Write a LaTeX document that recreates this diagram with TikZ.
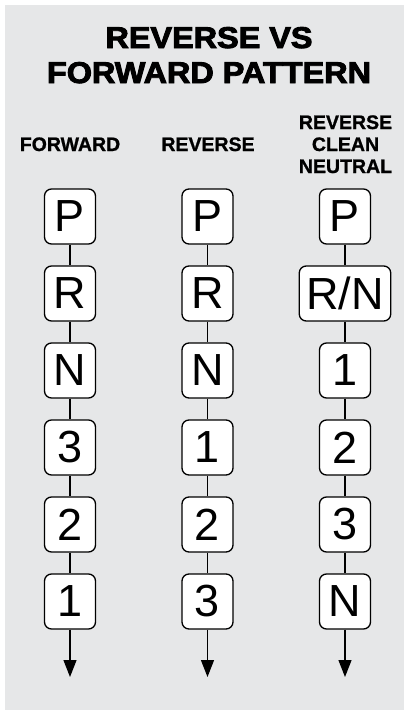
\documentclass[tikz,border=0pt]{standalone}
\usepackage{fontspec}
\setmainfont{Liberation Sans}
\newfontfamily\titlefont{Liberation Sans Bold}[FakeBold=3]
\newfontfamily\labelfont{Liberation Sans Bold}[FakeBold=1]
\usetikzlibrary{arrows.meta}
\definecolor{bggray}{HTML}{E6E7E8}
\tikzset{
  gear/.style={draw=black, fill=white, line width=1.3pt, rounded corners=7pt,
    minimum width=51pt, minimum height=55pt, inner xsep=7pt, inner ysep=0pt,
    font=\fontsize{45}{45}\selectfont},
  link/.style={line width=1.3pt, black},
  endarrow/.style={line width=1.3pt, black, -{Triangle[length=17pt,width=13pt]}},
  collabel/.style={font=\labelfont\fontsize{19.5}{22}\selectfont, align=center, inner sep=0pt, anchor=base},
  titletext/.style={font=\titlefont\fontsize{30}{35}\selectfont, inner sep=0pt, anchor=base}
}
\begin{document}
\begin{tikzpicture}[x=1pt,y=-1pt]
\useasboundingbox (0,0) rectangle (404,710);
\fill[white] (0,0) rectangle (404,710);
\fill[bggray] (5,5) rectangle (404,710);
% title
\node[titletext] (t1) at (209,48) {\scalebox{1.08}[1]{REVERSE VS}};
\node[titletext] (t2) at (209,83) {\scalebox{1.08}[1]{FORWARD PATTERN}};
% column labels
\node[collabel] (l1) at (70,151) {FORWARD};
\node[collabel] (l2) at (208,151) {REVERSE};
\node[collabel] (l3) at (345.5,173) {REVERSE\\CLEAN\\NEUTRAL};
% column 1
\node[gear] (a1) at (70,216.5) {P};
\node[gear] (a2) at (70,293.5) {R};
\node[gear] (a3) at (70,370.5) {N};
\node[gear] (a4) at (70,447.5) {3};
\node[gear] (a5) at (70,524.5) {2};
\node[gear] (a6) at (70,601.5) {1};
\coordinate (ae) at (70,677);
% column 2
\node[gear] (b1) at (207.5,216.5) {P};
\node[gear] (b2) at (207.5,293.5) {R};
\node[gear] (b3) at (207.5,370.5) {N};
\node[gear] (b4) at (207.5,447.5) {1};
\node[gear] (b5) at (207.5,524.5) {2};
\node[gear] (b6) at (207.5,601.5) {3};
\coordinate (be) at (207.5,677);
% column 3
\node[gear] (c1) at (345,216.5) {P};
\node[gear] (c2) at (345,293.5) {R/N};
\node[gear] (c3) at (345,370.5) {1};
\node[gear] (c4) at (345,447.5) {2};
\node[gear] (c5) at (345,524.5) {3};
\node[gear] (c6) at (345,601.5) {N};
\coordinate (ce) at (345,677);
% connectors
\foreach \c in {a,b,c}{
  \draw[link] (\c1.south) -- (\c2.north);
  \draw[link] (\c2.south) -- (\c3.north);
  \draw[link] (\c3.south) -- (\c4.north);
  \draw[link] (\c4.south) -- (\c5.north);
  \draw[link] (\c5.south) -- (\c6.north);
  \draw[endarrow] (\c6.south) -- (\c e);
}
\end{tikzpicture}
\end{document}
